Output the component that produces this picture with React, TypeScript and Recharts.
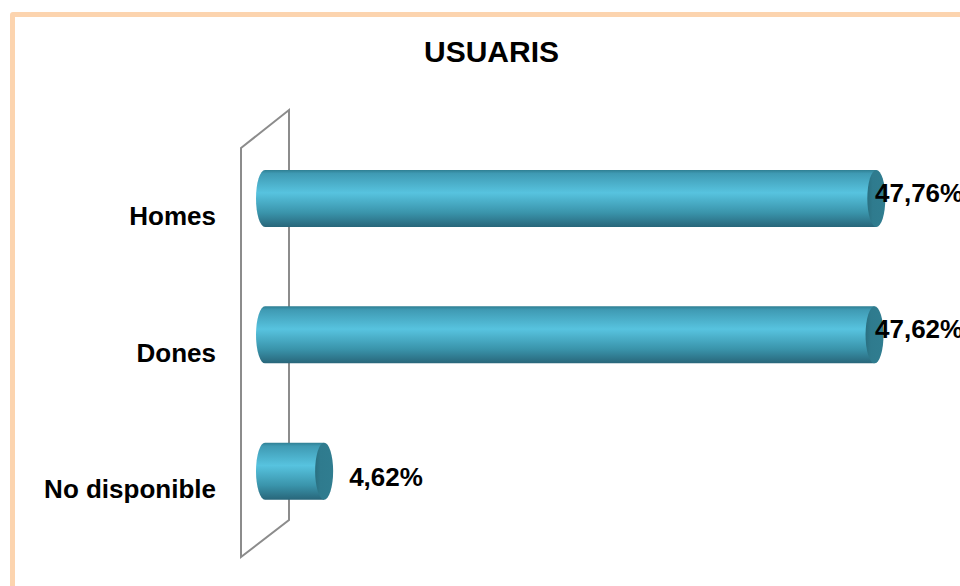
import React from 'react';
import { BarChart, Bar, XAxis, YAxis, LabelList } from 'recharts';

const categories = ['Homes', 'Dones', 'No disponible'];
const values = [47.76, 47.62, 4.62];
const valueLabels = ['47,76%', '47,62%', '4,62%'];
const title = 'USUARIS';

const data = categories.map((c, i) => ({ name: c, value: values[i], label: valueLabels[i] }));

const W = 960;
const H = 586;
const M = { top: 130, right: 55, bottom: 47, left: 15 };
const Y_W = 250;
const PLOT_L = M.left + Y_W;
const PLOT_R = W - M.right;
const PLOT_T = M.top;
const PLOT_B = H - M.bottom;
const FONT = 'Liberation Sans, Arial, sans-serif';

const CylinderBar = (props: any) => {
  const { x, y, width, height } = props;
  const rx = 9;
  const x0 = x;
  const x1 = x + width;
  const top = y;
  const bot = y + height;
  const ry = height / 2;
  const d = `M ${x0} ${top} L ${x1} ${top} L ${x1} ${bot} L ${x0} ${bot} A ${rx} ${ry} 0 0 1 ${x0} ${top} Z`;
  return (
    <g>
      <path d={d} fill="url(#cylBody)" />
      <ellipse cx={x1} cy={top + ry} rx={rx} ry={ry} fill="url(#cylCap)" />
    </g>
  );
};

const ValueLabel = (props: any) => {
  const { x, y, width, height, value } = props;
  const end = x + width;
  let lx = end + 25;
  let dy = 6;
  if (lx > PLOT_R - 30) {
    lx = PLOT_R - 30;
    dy = -6;
  }
  return (
    <text
      x={lx}
      y={y + height / 2 + dy}
      fontFamily={FONT}
      fontSize={26}
      fontWeight="bold"
      fill="#000"
      dominantBaseline="central"
    >
      {value}
    </text>
  );
};

const CatTick = (props: any) => {
  const { y, payload } = props;
  return (
    <text
      x={PLOT_L - 49}
      y={y + 18}
      textAnchor="end"
      dominantBaseline="central"
      fontFamily={FONT}
      fontSize={26}
      fontWeight="bold"
      fill="#000"
    >
      {payload.value}
    </text>
  );
};

export default function App() {
  return (
    <div style={{ position: 'fixed', left: 0, top: 0, width: W, height: H, overflow: 'hidden', background: '#fff' }}>
      <div
        style={{
          position: 'absolute',
          left: 10,
          top: 12,
          width: 1000,
          height: 640,
          border: '5px solid #FCD4AF',
          borderRadius: 3,
          background: '#fff',
        }}
      />
      <div
        style={{
          position: 'absolute',
          left: 0,
          width: 983,
          top: 35,
          textAlign: 'center',
          fontFamily: FONT,
          fontWeight: 'bold',
          fontSize: 30,
          lineHeight: '34px',
          color: '#000',
        }}
      >
        {title}
      </div>
      <svg style={{ position: 'absolute', left: 0, top: 0 }} width={W} height={H}>
        <path
          d={`M ${PLOT_L - 24} ${PLOT_T + 18} L ${PLOT_L + 24} ${PLOT_T - 20} L ${PLOT_L + 24} ${PLOT_B - 19} L ${PLOT_L - 24} ${PLOT_B + 18} Z`}
          fill="none"
          stroke="#8c8c8c"
          strokeWidth={2}
        />
      </svg>
      <div style={{ position: 'absolute', left: 0, top: 0 }}>
        <BarChart width={W} height={H} data={data} layout="vertical" margin={M}>
          <defs>
            <linearGradient id="cylBody" x1="0" y1="0" x2="0" y2="1">
              <stop offset="0" stopColor="#2f7f93" />
              <stop offset="0.06" stopColor="#3f9ab3" />
              <stop offset="0.4" stopColor="#57c3df" />
              <stop offset="0.75" stopColor="#3a94ab" />
              <stop offset="1" stopColor="#28667a" />
            </linearGradient>
            <linearGradient id="cylCap" x1="0" y1="0" x2="1" y2="0">
              <stop offset="0" stopColor="#2a6f80" />
              <stop offset="0.3" stopColor="#2f7b8e" />
              <stop offset="1" stopColor="#307d90" />
            </linearGradient>
          </defs>
          <XAxis type="number" domain={[0, 50]} hide />
          <YAxis
            type="category"
            dataKey="name"
            width={Y_W}
            axisLine={false}
            tickLine={false}
            tick={<CatTick />}
          />
          <Bar dataKey="value" barSize={57} shape={<CylinderBar />} isAnimationActive={false}>
            <LabelList dataKey="label" content={<ValueLabel />} />
          </Bar>
        </BarChart>
      </div>
    </div>
  );
}
